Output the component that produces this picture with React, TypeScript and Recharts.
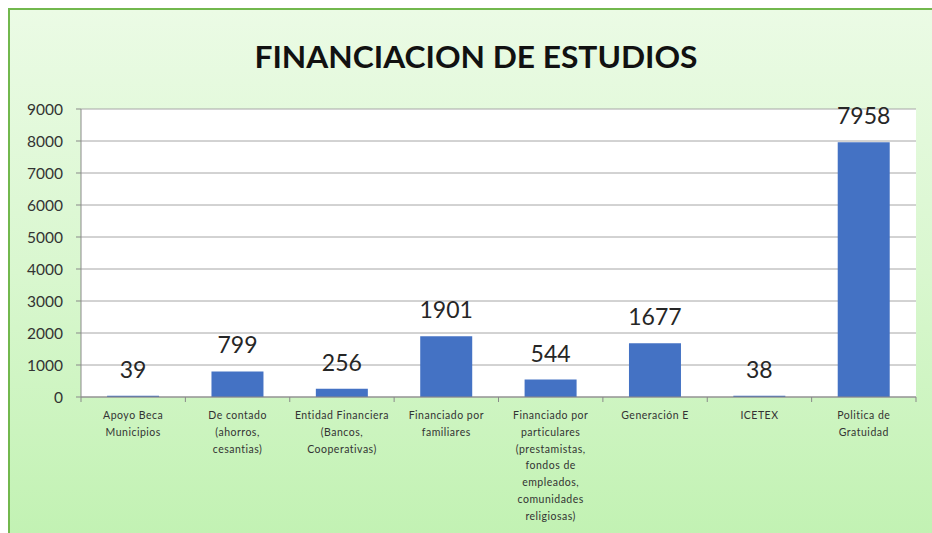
import React from "react";
import { BarChart, Bar, XAxis, YAxis, CartesianGrid, LabelList } from "recharts";

const categories = [
  "Apoyo Beca\nMunicipios",
  "De contado\n(ahorros,\ncesantias)",
  "Entidad Financiera\n(Bancos,\nCooperativas)",
  "Financiado por\nfamiliares",
  "Financiado por\nparticulares\n(prestamistas,\nfondos de\nempleados,\ncomunidades\nreligiosas)",
  "Generación E",
  "ICETEX",
  "Politica de\nGratuidad",
];
const values = [39, 799, 256, 1901, 544, 1677, 38, 7958];
const yTicks = [0, 1000, 2000, 3000, 4000, 5000, 6000, 7000, 8000, 9000];
const title = "FINANCIACION DE ESTUDIOS";

const data = categories.map((c, i) => ({ name: c, value: values[i] }));

const FONT = "Lato, 'Open Sans', sans-serif";

const CategoryTick = (props: any) => {
  const { x, y, payload, width, visibleTicksCount, index } = props;
  const half = width / visibleTicksCount / 2;
  const lines = String(payload.value).split("\n");
  return (
    <g>
      <line x1={x - half} x2={x - half} y1={y} y2={y + 5} stroke="#898989" />
      {index === visibleTicksCount - 1 && (
        <line x1={x + half} x2={x + half} y1={y} y2={y + 5} stroke="#898989" />
      )}
      <text x={x} y={y + 22} textAnchor="middle" fontFamily={FONT} fontSize={10.5} letterSpacing={0.5} fill="#333">
        {lines.map((l, i) => (
          <tspan key={i} x={x} dy={i === 0 ? 0 : 16.8}>
            {l}
          </tspan>
        ))}
      </text>
    </g>
  );
};

export default function App() {
  return (
    <div
      style={{
        position: "fixed",
        left: 8,
        top: 8,
        width: 960,
        height: 560,
        boxSizing: "border-box",
        borderTop: "2px solid #72b84e",
        borderLeft: "2px solid #72b84e",
        background: "linear-gradient(to bottom, #ebfbe5 0px, #d9f7cf 262px, #c2f2b3 525px, #c0f2b1 560px)",
        overflow: "hidden",
      }}
    >
      <svg width={922} height={80} style={{ position: "absolute", left: 0, top: 0 }}>
        <text
          x={466}
          y={58}
          textAnchor="middle"
          fontFamily={FONT}
          fontWeight={700}
          fontSize={30}
          fill="#111"
          textLength={443}
          lengthAdjust="spacingAndGlyphs"
        >
          {title}
        </text>
      </svg>
      <div style={{ position: "absolute", left: 0, top: 0 }}>
        <BarChart
          width={922}
          height={523}
          data={data}
          margin={{ top: 99, right: 16, bottom: 6, left: 11 }}
          barCategoryGap="25%"
        >
          <CartesianGrid vertical={false} stroke="#a6a6a6" fill="#ffffff" />
          <XAxis
            dataKey="name"
            interval={0}
            tickLine={false}
            tickSize={0}
            tickMargin={0}
            height={130}
            stroke="#898989"
            tick={<CategoryTick />}
          />
          <YAxis
            domain={[0, 9000]}
            ticks={yTicks}
            width={60}
            tickSize={5}
            tickMargin={13}
            stroke="#898989"
            tick={{ fontFamily: FONT, fontSize: 15.5, fill: "#333" }}
          />
          <Bar dataKey="value" fill="#4472C4" isAnimationActive={false}>
            <LabelList
              dataKey="value"
              position="top"
              offset={18}
              style={{ fontFamily: FONT, fontSize: 23, fill: "#262626" }}
            />
          </Bar>
        </BarChart>
      </div>
    </div>
  );
}
